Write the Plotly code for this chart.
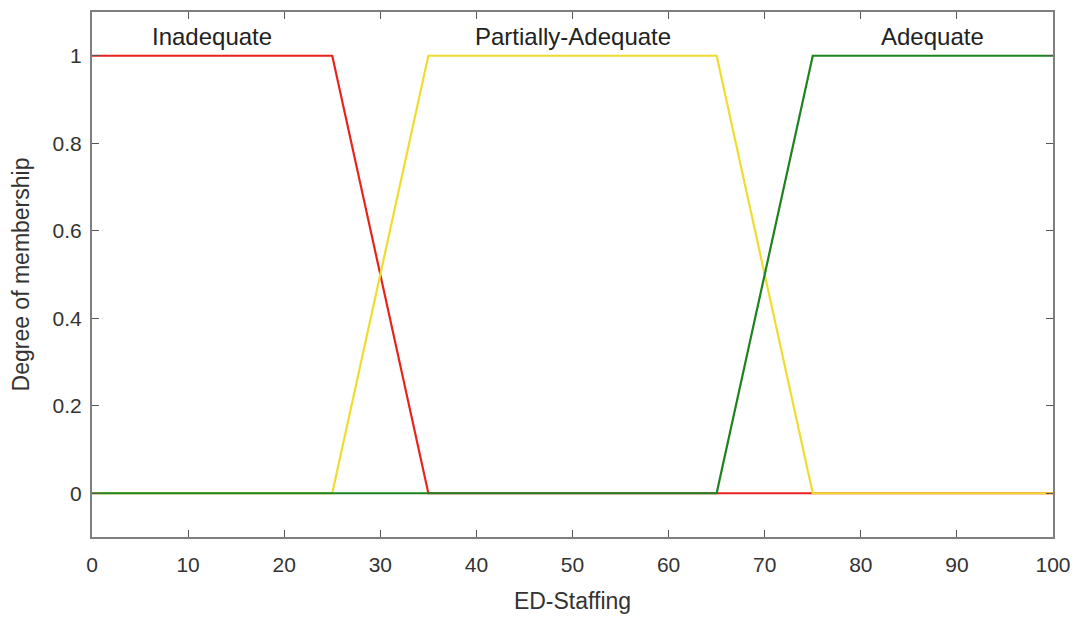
import plotly.graph_objects as go

x_inadequate = [0, 25, 35, 100]
y_inadequate = [1, 1, 0, 0]
x_partial = [0, 25, 35, 65, 75, 100]
y_partial = [0, 0, 1, 1, 0, 0]
x_adequate = [0, 65, 75, 100]
y_adequate = [0, 0, 1, 1]

labels = ["Inadequate", "Partially-Adequate", "Adequate"]
label_x = [12.5, 50, 87.5]
label_y = [1.045, 1.045, 1.045]

x_ticks = list(range(0, 101, 10))
y_ticks = [0, 0.2, 0.4, 0.6, 0.8, 1]
y_tick_text = ["0", "0.2", "0.4", "0.6", "0.8", "1"]

FONT = "Liberation Sans, Arial, Helvetica, sans-serif"

fig = go.Figure()
fig.add_trace(go.Scatter(x=x_inadequate, y=y_inadequate, mode="lines",
                         line=dict(color="#e8231c", width=2.2)))
fig.add_trace(go.Scatter(x=x_partial, y=y_partial, mode="lines",
                         line=dict(color="#f0dc2e", width=2.2)))
fig.add_trace(go.Scatter(x=x_adequate, y=y_adequate, mode="lines",
                         line=dict(color="#1e821e", width=2.2)))

for t, lx, ly in zip(labels, label_x, label_y):
    fig.add_annotation(x=lx, y=ly, text=t, showarrow=False,
                       font=dict(size=24, color="#222222", family=FONT),
                       xanchor="center", yanchor="middle")

axis_common = dict(showgrid=False, zeroline=False, showline=True, mirror="ticks",
                   linecolor="#7f7f7f", linewidth=2, ticks="inside", ticklen=7,
                   tickcolor="#555555", tickwidth=1,
                   tickfont=dict(size=21, color="#333333", family=FONT))

fig.update_layout(
    width=1081, height=620,
    margin=dict(l=92, r=23, t=10, b=82),
    plot_bgcolor="white", paper_bgcolor="white",
    showlegend=False,
    xaxis=dict(range=[0, 100], tickvals=x_ticks, ticklabelstandoff=8,
               title=dict(text="ED-Staffing", standoff=18,
                          font=dict(size=23, color="#333333", family=FONT)),
               **axis_common),
    yaxis=dict(range=[-0.1, 1.1], tickvals=y_ticks, ticktext=y_tick_text,
               ticklabelstandoff=4,
               title=dict(text="Degree of membership", standoff=17,
                          font=dict(size=23, color="#333333", family=FONT)),
               **axis_common),
)

fig.write_html("out.html")
